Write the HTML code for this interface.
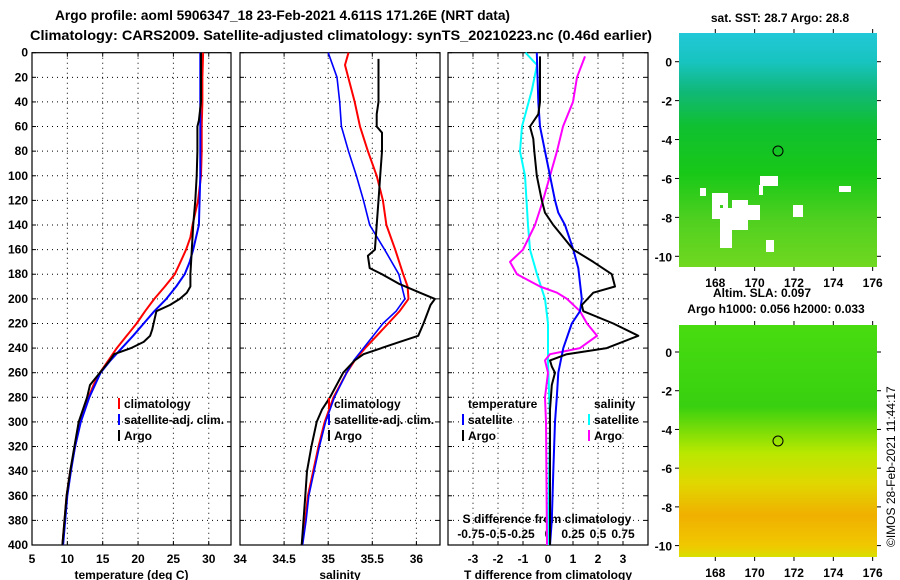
<!DOCTYPE html>
<html><head><meta charset="utf-8">
<style>
html,body{margin:0;padding:0;background:#fff;}
svg{display:block;font-family:"Liberation Sans",sans-serif;font-weight:bold;}
</style></head>
<body>
<svg id="chart" width="900" height="580" viewBox="0 0 900 580" xmlns="http://www.w3.org/2000/svg">
<defs>
<linearGradient id="sstGrad" x1="0" y1="0" x2="0" y2="1">
<stop offset="0" stop-color="#22c8d8"/><stop offset="0.12" stop-color="#18c4c0"/>
<stop offset="0.25" stop-color="#10b878"/><stop offset="0.4" stop-color="#10c030"/>
<stop offset="0.6" stop-color="#18c818"/><stop offset="0.8" stop-color="#50d020"/>
<stop offset="1" stop-color="#70d820"/></linearGradient>
<linearGradient id="slaGrad" x1="0" y1="0" x2="0" y2="1">
<stop offset="0" stop-color="#48dc10"/><stop offset="0.35" stop-color="#38d010"/>
<stop offset="0.55" stop-color="#b8e800"/><stop offset="0.68" stop-color="#e0d800"/>
<stop offset="0.82" stop-color="#f0b000"/><stop offset="0.95" stop-color="#f0c800"/>
<stop offset="1" stop-color="#d8e000"/></linearGradient>
</defs>
<text x="55" y="20" font-size="13.5" textLength="455" lengthAdjust="spacingAndGlyphs">Argo profile: aoml 5906347_18 23-Feb-2021 4.611S 171.26E (NRT data)</text>
<text x="30" y="40" font-size="14" textLength="622" lengthAdjust="spacingAndGlyphs">Climatology: CARS2009. Satellite-adjusted climatology: synTS_20210223.nc (0.46d earlier)</text>
<g id="plots"></g>
<g id="maps">
<text x="780" y="22" font-size="12" text-anchor="middle">sat. SST: 28.7 Argo: 28.8</text>
<rect x="679" y="33" width="198" height="234" fill="url(#sstGrad)"/>
<g fill="#fff">
<rect x="712" y="193" width="16" height="12"/><rect x="712" y="205" width="8" height="14"/>
<rect x="720" y="208" width="12" height="40"/><rect x="732" y="200" width="16" height="30"/>
<rect x="740" y="205" width="20" height="15"/><rect x="760" y="176" width="18" height="10"/>
<rect x="759" y="185" width="4" height="10"/><rect x="766" y="240" width="8" height="12"/>
<rect x="793" y="205" width="10" height="12"/><rect x="839" y="186" width="12" height="6"/>
<rect x="723" y="193" width="5" height="15"/><rect x="700" y="188" width="6" height="8"/>
</g>
<circle cx="778" cy="151" r="5" fill="none" stroke="#000"/>
<text x="762" y="297" font-size="12" text-anchor="middle">Altim. SLA: 0.097</text>
<text x="776" y="313" font-size="12" text-anchor="middle">Argo h1000: 0.056 h2000: 0.033</text>
<rect x="679" y="325" width="198" height="232" fill="url(#slaGrad)"/>
<circle cx="778" cy="441" r="5" fill="none" stroke="#000"/>
<text transform="translate(895,547) rotate(-90)" font-size="12" font-weight="normal">©IMOS 28-Feb-2021 11:44:17</text>
</g>
</svg>
<script>
// ---- data ----
const depthTicks = [0,20,40,60,80,100,120,140,160,180,200,220,240,260,280,300,320,340,360,380,400];
const tempTicks = [5,10,15,20,25,30];
const salTicks = [34,34.5,35,35.5,36];
const tdiffTicks = [-3,-2,-1,0,1,2,3];
const sdiffTickLabels = ["-0.75","-0.5","-0.25","0","0.25","0.5","0.75"];
const sdiffTicks = [-0.75,-0.5,-0.25,0,0.25,0.5,0.75];

const tClimDepth = [0,20,40,60,80,100,120,140,150,160,170,180,190,200,210,220,230,240,250,260,270,280,300,320,340,360,380,400];
const tClimVal = [29.2,29.1,29.1,29.0,29.0,28.9,28.5,27.7,27.4,26.8,26.0,25.2,23.8,22.3,21.0,19.8,18.4,17.0,15.8,14.6,13.7,13.0,11.8,11.1,10.4,9.9,9.6,9.3];
const tSatDepth = [0,20,40,60,80,100,120,140,160,170,180,190,200,210,220,230,240,250,260,280,300,320,340,360,380,400];
const tSatVal = [28.8,28.8,28.8,28.8,28.8,28.8,28.7,28.6,27.8,27.3,26.6,25.4,24.0,22.3,20.8,19.3,17.7,16.1,14.7,13.1,11.9,11.1,10.5,10.0,9.7,9.4];
const tArgoDepth = [0,40,55,60,80,100,120,140,160,180,190,195,200,205,210,225,230,235,240,245,250,260,270,280,300,320,340,360,380,400];
const tArgoVal = [28.9,28.9,28.6,28.4,28.4,28.3,28.1,27.8,27.6,27.4,27.4,26.9,25.9,24.5,22.6,22.0,21.7,20.8,19.0,16.6,16.0,14.6,13.2,12.8,11.6,11.0,10.4,9.9,9.6,9.3];

const sClimDepth = [0,10,40,60,80,100,120,140,160,180,190,200,210,220,240,250,260,280,300,320,340,360,380,400];
const sClimVal = [35.23,35.19,35.30,35.36,35.45,35.55,35.62,35.66,35.76,35.85,35.90,35.91,35.81,35.68,35.42,35.30,35.21,35.06,34.96,34.89,34.83,34.77,34.74,34.70];
const sSatDepth = [0,20,40,60,80,100,120,140,160,180,200,210,220,240,250,260,280,300,320,340,360,380,400];
const sSatVal = [35.00,35.10,35.13,35.15,35.23,35.32,35.40,35.47,35.64,35.80,35.87,35.77,35.62,35.40,35.29,35.21,35.07,34.97,34.90,34.84,34.78,34.75,34.71];
const sArgoDepth = [5,40,50,60,65,80,100,120,140,160,165,175,180,188,195,200,205,220,230,235,245,250,260,280,290,300,320,340,360,400];
const sArgoVal = [35.57,35.57,35.55,35.55,35.61,35.61,35.59,35.57,35.55,35.53,35.45,35.47,35.61,35.81,36.04,36.21,36.16,36.08,36.02,35.81,35.40,35.30,35.17,35.02,34.93,34.87,34.81,34.76,34.74,34.70];

const dtSatDepth = [0,40,60,80,100,120,130,140,160,175,200,210,220,240,260,280,300,340,380,400];
const dtSatVal = [-0.45,-0.39,-0.32,-0.12,0.08,0.28,0.41,0.68,1.01,1.21,1.35,1.28,0.95,0.61,0.41,0.35,0.28,0.21,0.15,0.08];
const dtArgoDepth = [3,40,50,60,70,80,100,120,130,140,150,160,170,180,190,195,205,210,220,230,240,245,250,255,260,270,290,320,400];
const dtArgoVal = [-0.32,-0.32,-0.39,-0.72,-0.59,-0.55,-0.45,-0.25,-0.12,0.21,0.61,1.01,1.81,2.55,2.68,1.81,1.35,1.41,2.61,3.61,2.35,0.75,0.08,0.15,0.28,0.15,0.08,0.08,0.08];
const dsSatDepth = [0,10,30,60,80,100,140,160,180,200,220,250,300,400];
const dsSatVal = [-0.225,-0.11,-0.16,-0.26,-0.28,-0.23,-0.2,-0.18,-0.11,-0.03,0.0,0.0,0.02,0.0];
const dsArgoDepth = [3,20,40,60,80,100,120,140,160,170,180,190,195,200,210,220,230,240,245,250,260,280,300,400];
const dsArgoVal = [0.37,0.29,0.25,0.15,0.09,0.02,-0.05,-0.13,-0.25,-0.38,-0.31,-0.08,0.09,0.19,0.32,0.39,0.49,0.32,0.02,-0.03,0.0,-0.03,-0.02,-0.01];

// ---- layout ----
const NS="http://www.w3.org/2000/svg";
const plotTop=52.7, plotBot=545;
const yD = d => plotTop + (plotBot-plotTop)*d/400;
const P1={l:32,r:231}, P2={l:240,r:440}, P3={l:448,r:648};
const xT = v => P1.l + (v-5)*7.07;
const xS = v => P2.l + (v-34)*88.2;
const xDT = v => 548 + v*25;
const xDS = v => 548 + v*100;
const g=document.getElementById('plots');
function el(tag,attrs,parent){const e=document.createElementNS(NS,tag);for(const k in attrs)e.setAttribute(k,attrs[k]);(parent||g).appendChild(e);return e;}
function txt(x,y,s,anchor,size,parent){const t=el('text',{x:x,y:y,'font-size':size||12,'text-anchor':anchor||'middle'},parent);t.textContent=s;return t;}

function panel(P,name,xTicks,xf,xLabels,xTitle){
  const pg=el('g',{});
  
  
  depthTicks.forEach(d=>{ if(d>0&&d<400){ el('line',{x1:P.l,x2:P.r,y1:yD(d),y2:yD(d),stroke:'#000','stroke-dasharray':'1,4','stroke-width':1},pg);}
    el('line',{x1:P.l,x2:P.l+4,y1:yD(d),y2:yD(d),stroke:'#000'},pg);
    el('line',{x1:P.r-4,x2:P.r,y1:yD(d),y2:yD(d),stroke:'#000'},pg);});
  xTicks.forEach((v,i)=>{const x=xf(v);
    if(x>P.l+1&&x<P.r-1) el('line',{x1:x,x2:x,y1:plotTop,y2:plotBot,stroke:'#000','stroke-dasharray':'1,4'},pg);
    el('line',{x1:x,x2:x,y1:plotTop,y2:plotTop+4,stroke:'#000'},pg);
    el('line',{x1:x,x2:x,y1:plotBot-4,y2:plotBot,stroke:'#000'},pg);
    const t=txt(x,563,xLabels[i],'middle',12,pg);
    
    
  });
  el('rect',{x:P.l,y:plotTop,width:P.r-P.l,height:plotBot-plotTop,fill:'none',stroke:'#000','stroke-width':1.2},pg);
  const tt=txt((P.l+P.r)/2,579,xTitle,'middle',12,pg);
  
  
  return pg;
}
function series(depths,vals,xf,color,name,w){
  const pts=depths.map((d,i)=>xf(vals[i]).toFixed(1)+','+yD(d).toFixed(1)).join(' ');
  const p=el('polyline',{points:pts,fill:'none',stroke:color,'stroke-width':w||2,'stroke-linejoin':'round'});
  
  
}
function legend(x,y,color,label,name){
  el('line',{x1:x,x2:x,y1:y-10,y2:y+1,stroke:color,'stroke-width':2});
  const t=txt(x+5,y,label,'start',12);
  
  
}

panel(P1,'temperature-panel',tempTicks,xT,tempTicks.map(String),'temperature (deg C)');
panel(P2,'salinity-panel',salTicks,xS,salTicks.map(String),'salinity');
panel(P3,'difference-panel',tdiffTicks,xDT,tdiffTicks.map(String),'T difference from climatology');
// depth labels
depthTicks.forEach(d=>{const t=txt(28,yD(d)+4,String(d),'end',12);
  
  });
// S diff labels inside panel3
sdiffTicks.forEach((v,i)=>{const t=txt(xDS(v)+(i<3?-2:0),538,sdiffTickLabels[i],'middle',12);
  
  });
const st=txt(547,523,'S difference from climatology','middle',12);



// series
series(tClimDepth,tClimVal,xT,'#f00','temp-climatology-line');
series(tSatDepth,tSatVal,xT,'#00f','temp-satellite-line');
series(tArgoDepth,tArgoVal,xT,'#000','temp-argo-line');
series(sClimDepth,sClimVal,xS,'#f00','sal-climatology-line');
series(sSatDepth,sSatVal,xS,'#00f','sal-satellite-line',1.6);
series(sArgoDepth,sArgoVal,xS,'#000','sal-argo-line');
series(dsSatDepth,dsSatVal,xDS,'#0ff','sdiff-satellite-line');
series(dsArgoDepth,dsArgoVal,xDS,'#f0f','sdiff-argo-line');
series(dtSatDepth,dtSatVal,xDT,'#00f','tdiff-satellite-line');
series(dtArgoDepth,dtArgoVal,xDT,'#000','tdiff-argo-line');

// legends
legend(119,408,'#f00','climatology','legend-climatology');
legend(119,424,'#00f','satellite-adj. clim.','legend-satellite-adj');
legend(119,440,'#000','Argo','legend-argo');
legend(329,408,'#f00','climatology','legend-sal-climatology');
legend(329,424,'#00f','satellite-adj. clim.','legend-sal-satellite-adj');
legend(329,440,'#000','Argo','legend-sal-argo');
txt(468,408,'temperature','start',12);
legend(463,424,'#00f','satellite','legend-tdiff-satellite');
legend(463,440,'#000','Argo','legend-tdiff-argo');
txt(594,408,'salinity','start',12);
legend(589,424,'#0ff','satellite','legend-sdiff-satellite');
legend(589,440,'#f0f','Argo','legend-sdiff-argo');

// map axes
const mg=document.getElementById('maps');
function mapAxes(y0,y1,lat0y,lat10y,lblY,name){
  const ax=el('g',{},mg);
  
  
  const lonTicks=[168,170,172,174,176];
  lonTicks.forEach(l=>{const x=715.3+(l-168)*19.67;
    el('line',{x1:x,x2:x,y1:y1,y2:y1+4,stroke:'#000'},ax);
    el('line',{x1:x,x2:x,y1:y0-4,y2:y0,stroke:'#000'},ax);
    txt(x,lblY,String(l),'middle',12,ax);});
  const latTicks=[0,-2,-4,-6,-8,-10];
  latTicks.forEach(la=>{const y=lat0y+(lat10y-lat0y)*(-la/10);
    el('line',{x1:675,x2:679,y1:y,y2:y,stroke:'#000'},ax);
    el('line',{x1:877,x2:881,y1:y,y2:y,stroke:'#000'},ax);
    txt(672,y+5,String(la),'end',12,ax);});
}
mapAxes(33,267,61.7,256.3,287,'sst-map-axes');
mapAxes(325,557,352,545.6,577,'sla-map-axes');
</script>
</body></html>
